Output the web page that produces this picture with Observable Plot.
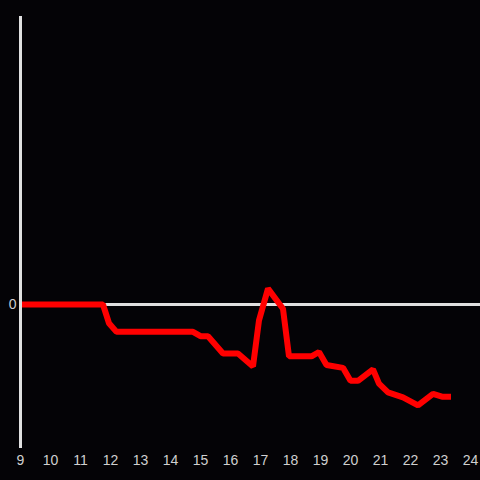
<!DOCTYPE html>
<html>
<head>
<meta charset="utf-8">
<script src="https://cdn.jsdelivr.net/npm/d3@7"></script>
<script src="https://cdn.jsdelivr.net/npm/@observablehq/plot@0.6"></script>
<style>
  html, body { margin: 0; padding: 0; background: #040306; }
  #chart svg { display: block; }
</style>
</head>
<body>
<div id="chart"></div>
<script>
const hours  = [9, 11.75, 11.95, 12.2, 14.75, 15, 15.25, 15.75, 16.25, 16.75, 16.95, 17.25, 17.75, 17.95, 18.7, 18.95, 19.2, 19.75, 20, 20.25, 20.75, 20.95, 21.25, 21.75, 22.25, 22.75, 23.05, 23.35];
const values = [0, 0, -1.3, -1.9, -1.9, -2.2, -2.2, -3.4, -3.4, -4.3, -1.1, 1.1, -0.3, -3.6, -3.6, -3.3, -4.2, -4.4, -5.3, -5.3, -4.5, -5.5, -6.1, -6.45, -7.0, -6.2, -6.4, -6.4];
const xTicks = [9, 10, 11, 12, 13, 14, 15, 16, 17, 18, 19, 20, 21, 22, 23, 24];
const yTicks = [0];

const data = hours.map((h, i) => ({x: h, y: values[i]}));

const chart = Plot.plot({
  width: 480,
  height: 480,
  marginLeft: 20,
  marginRight: 0,
  marginTop: 16,
  marginBottom: 32,
  style: {background: "#040306", color: "#d0d0d0", fontSize: "14px", fontFamily: "'Liberation Sans', Arial, sans-serif"},
  x: {domain: [9, 24], range: [20, 470], label: null},
  y: {domain: [-10, 20], label: null},
  marks: [
    Plot.ruleY([0], {stroke: "#e0e0e0", strokeWidth: 3}),
    Plot.line(data, {x: "x", y: "y", stroke: "#ff0000", strokeWidth: 6, strokeLinecap: "butt", strokeLinejoin: "miter", curve: "linear"}),
    Plot.ruleX([9], {stroke: "#e0e0e0", strokeWidth: 3}),
    Plot.axisX({ticks: xTicks, tickSize: 0, tickPadding: 7, tickFormat: d => String(d), fill: "#d0d0d0", fontSize: 14, label: null}),
    Plot.axisY({ticks: yTicks, tickSize: 0, tickPadding: 4, tickFormat: d => String(d), fill: "#d0d0d0", fontSize: 14, label: null})
  ]
});
document.getElementById("chart").appendChild(chart);
</script>
</body>
</html>
